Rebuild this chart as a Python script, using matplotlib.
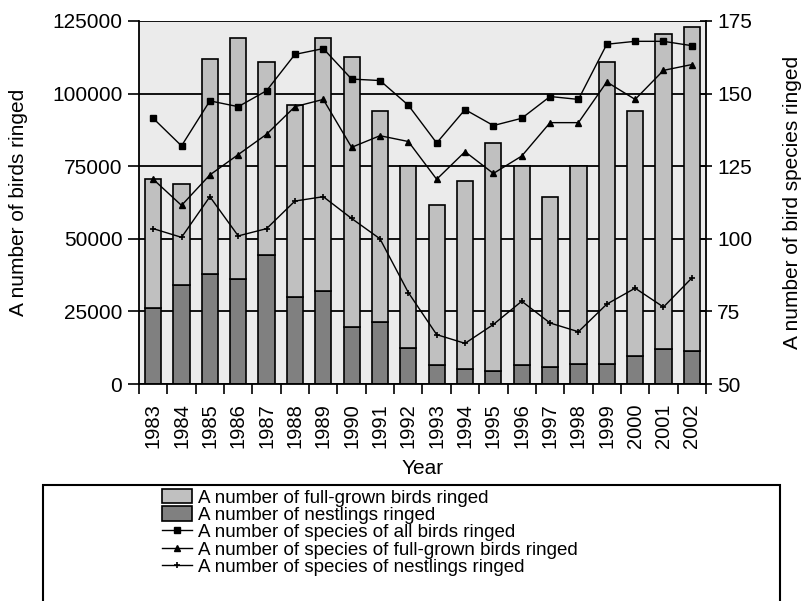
import matplotlib
matplotlib.use("Agg")
import matplotlib.pyplot as plt
from matplotlib.patches import Patch, Rectangle
from matplotlib.lines import Line2D
import numpy as np

plt.rcParams['font.family'] = ['Liberation Sans', 'DejaVu Sans']

years = [str(y) for y in range(1983, 2003)]
total_ringed = [70500, 69000, 112000, 119000, 111000, 96000, 119000, 112500, 94000, 75000,
                61500, 70000, 83000, 75000, 64500, 75000, 111000, 94000, 120500, 123000]
nestlings = [26000, 34000, 38000, 36000, 44500, 30000, 32000, 19500, 21500, 12500,
             6500, 5000, 4500, 6500, 6000, 7000, 7000, 9500, 12000, 11500]
full_grown = [t - n for t, n in zip(total_ringed, nestlings)]

species_all = [141.5, 132, 147.5, 145.5, 151, 163.5, 165.5, 155, 154.5, 146,
               133, 144.5, 139, 141.5, 149, 148, 167, 168, 168, 166.5]
species_full = [120.5, 111.5, 122, 129, 136, 145.5, 148, 131.5, 135.5, 133.5,
                120.5, 130, 122.5, 128.5, 140, 140, 154, 148, 158, 160]
species_nest = [103.5, 100.5, 114.5, 101, 103.5, 113, 114.5, 107, 100, 81.5,
                67, 64, 70.5, 78.5, 71, 68, 77.5, 83, 76.5, 86.5]

labels = ["A number of full-grown birds ringed",
          "A number of nestlings ringed",
          "A number of species of all birds ringed",
          "A number of species of full-grown birds ringed",
          "A number of species of nestlings ringed"]

fig = plt.figure(figsize=(8.04, 6.01), dpi=100)
ax = fig.add_axes([139/804, 1-384/601, 567/804, 363/601])
ax.set_facecolor('#ebebeb')

x = np.arange(len(years))
w = 0.57
ax.yaxis.grid(True, color='black', linewidth=1.3, zorder=0)
ax.set_axisbelow(True)
ax.bar(x, nestlings, w, color='#808080', edgecolor='black', linewidth=1.2, zorder=2)
ax.bar(x, full_grown, w, bottom=nestlings, color='#c0c0c0', edgecolor='black', linewidth=1.2, zorder=2)

ax.set_xlim(-0.5, len(years) - 0.5)
ax.set_ylim(0, 125000)
ax.set_yticks(np.arange(0, 125001, 25000))
ax.set_xticks(np.arange(-0.5, len(years), 1.0))
ax.set_xticklabels([])
ax.set_xticks(x, minor=True)
ax.set_xticklabels(years, minor=True, rotation=90, fontsize=14.5)
ax.tick_params(axis='x', which='major', length=7, width=1.2, direction='out')
ax.tick_params(axis='x', which='minor', length=0, pad=14)
ax.tick_params(axis='y', length=8, width=1.2, direction='out', labelsize=15, pad=4)
for s in ['top', 'right']:
    ax.spines[s].set_visible(False)
for s in ['left', 'bottom']:
    ax.spines[s].set_linewidth(1.3)
ax.set_ylabel("A number of birds ringed", fontsize=15, labelpad=17)
ax.set_xlabel("Year", fontsize=15, labelpad=8)

ax2 = ax.twinx()
ax2.set_ylim(50, 175)
ax2.set_yticks(np.arange(50, 176, 25))
ax2.tick_params(axis='y', length=8, width=1.2, direction='inout', labelsize=15, pad=4)
for s in ['top', 'left', 'bottom']:
    ax2.spines[s].set_visible(False)
ax2.spines['right'].set_linewidth(1.3)
ax2.plot(x, species_all, color='black', lw=1.0, marker='s', ms=4.5, zorder=3)
ax2.plot(x, species_full, color='black', lw=1.0, marker='^', ms=4.5, zorder=3)
ax2.plot(x, species_nest, color='black', lw=1.0, marker='+', ms=5, mew=1.2, zorder=3)
ax2.set_ylabel("A number of bird species ringed", fontsize=15, labelpad=22)

handles = [Patch(facecolor='#c0c0c0', edgecolor='black', linewidth=1.2),
           Patch(facecolor='#808080', edgecolor='black', linewidth=1.2),
           Line2D([], [], color='black', lw=1.0, marker='s', ms=4.5),
           Line2D([], [], color='black', lw=1.0, marker='^', ms=4.5),
           Line2D([], [], color='black', lw=1.0, marker='+', ms=5, mew=1.2)]
fig.legend(handles, labels, loc='upper left', bbox_to_anchor=(162/804, 1-489/601),
           frameon=False, fontsize=13.5, handlelength=1.6, handleheight=0.8,
           labelspacing=-0.02, handletextpad=0.3, borderpad=0, borderaxespad=0)

fig.patches.append(Rectangle((43/804, -0.1), (780-43)/804, 0.1 + 1 - 485/601,
                             transform=fig.transFigure, fill=False,
                             edgecolor='black', linewidth=1.5))

fig.savefig("out.png", dpi=100)
